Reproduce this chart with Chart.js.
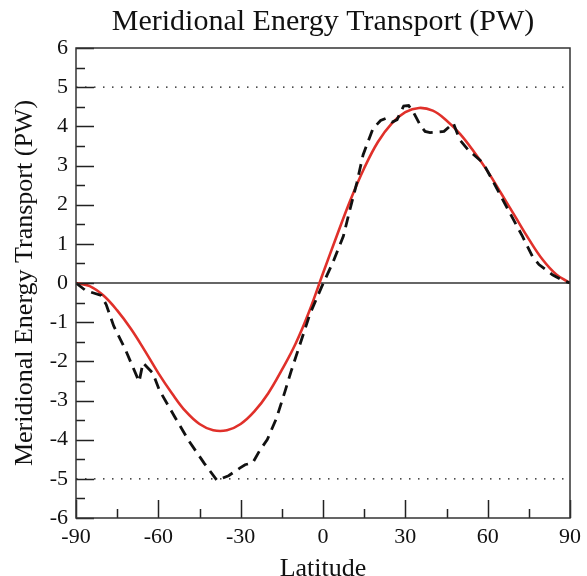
<!DOCTYPE html>
<html><head><meta charset="utf-8">
<script src="https://cdn.jsdelivr.net/npm/chart.js@4/dist/chart.umd.min.js"></script>
<style>html,body{margin:0;padding:0;background:#fff;}</style>
</head><body>
<canvas id="c" width="587" height="576" style="width:587px;height:576px;display:block"></canvas>
<script>
// Model (red, smooth) transport
const modelLat = [-90,-85,-80,-75,-70,-65,-60,-55,-50,-45,-40,-35,-30,-25,-20,-15,-10,-5,0,5,10,15,20,25,30,35,40,45,50,55,60,65,70,75,80,85,90];
const modelPW  = [0,-0.08,-0.32,-0.7,-1.17,-1.72,-2.3,-2.82,-3.28,-3.6,-3.76,-3.76,-3.6,-3.28,-2.82,-2.22,-1.55,-0.72,0.25,1.2,2.12,2.93,3.6,4.07,4.36,4.47,4.4,4.15,3.8,3.35,2.85,2.28,1.7,1.12,0.6,0.22,0];
// Observed (black, dashed) transport
const obsLat = [-90,-86.5,-80.8,-79,-76.3,-72,-67,-65.6,-62,-59.6,-54,-49,-43.2,-38.6,-34.4,-30.2,-28.4,-25.6,-23,-20.3,-17,-13.9,-11.6,-4.7,-0.5,3.7,7.4,9.8,12.3,14.6,18.2,21,23.1,25.2,27,29.4,31.2,32.8,35.6,37.2,39,44.1,47.5,49.8,52.9,58.3,63.3,67.9,72.7,76.3,78.7,83.6,87.2,90];
const obsPW  = [0,-0.19,-0.32,-0.55,-1.09,-1.7,-2.52,-2.04,-2.3,-2.74,-3.42,-4.02,-4.61,-5.04,-4.92,-4.72,-4.64,-4.59,-4.27,-4.0,-3.46,-2.78,-2.25,-0.78,-0.1,0.54,1.19,1.87,2.55,3.27,3.94,4.15,4.21,4.11,4.17,4.52,4.53,4.38,4.01,3.87,3.84,3.87,4.08,3.66,3.4,3.07,2.42,1.81,1.19,0.68,0.47,0.21,0.07,0];
// Reference lines
const refLat = [-90, 90];
const refLevels = [5, 0, -5];
// Axis ticks
const xTickValues = [-90,-60,-30,0,30,60,90];
const yTickValues = [-6,-5,-4,-3,-2,-1,0,1,2,3,4,5,6];

const pts = (xs, ys) => xs.map((x, i) => ({x, y: ys[i]}));
const SERIF = '"Liberation Serif", "Times New Roman", serif';

const frame = {
  id: 'frame',
  afterDatasetsDraw(chart) {
    const {ctx, chartArea: a, scales: {x, y}} = chart;
    ctx.save();
    ctx.strokeStyle = '#222';
    ctx.lineWidth = 1.5;
    ctx.beginPath();
    for (let v = -6; v <= 6.001; v += 0.5) {
      const py = Math.round(y.getPixelForValue(v)) + 0.5;
      const len = Number.isInteger(v) ? 18 : 9;
      ctx.moveTo(a.left, py); ctx.lineTo(a.left + len, py);
    }
    for (let v = -90; v <= 90; v += 15) {
      const px = Math.round(x.getPixelForValue(v)) + 0.5;
      const len = (v % 30 === 0) ? 18 : 9;
      ctx.moveTo(px, a.bottom); ctx.lineTo(px, a.bottom - len);
    }
    ctx.stroke();
    ctx.lineWidth = 1.5;
    ctx.strokeStyle = '#333';
    ctx.strokeRect(a.left, a.top, a.right - a.left, a.bottom - a.top);
    ctx.restore();
  }
};

const refSets = refLevels.map(lv => ({
  label: 'ref' + lv,
  data: pts(refLat, refLat.map(() => lv)),
  borderColor: lv === 0 ? '#333' : '#111',
  borderWidth: lv === 0 ? 1.3 : 1.4,
  borderDash: lv === 0 ? [] : [1.5, 7.5],
  pointRadius: 0,
  showLine: true,
  order: 5
}));

new Chart(document.getElementById('c'), {
  type: 'scatter',
  data: {
    datasets: [
      {
        label: 'Observed',
        data: pts(obsLat, obsPW),
        showLine: true,
        borderColor: '#111',
        borderWidth: 2.8,
        borderDash: [11, 7],
        pointRadius: 0,
        tension: 0,
        order: 1
      },
      {
        label: 'Model',
        data: pts(modelLat, modelPW),
        showLine: true,
        borderColor: '#e0302a',
        borderWidth: 2.6,
        pointRadius: 0,
        tension: 0.4,
        order: 2
      },
      ...refSets
    ]
  },
  plugins: [frame],
  options: {
    responsive: false,
    animation: false,
    devicePixelRatio: 1,
    layout: { padding: { left: 0, right: 12, top: 0, bottom: 0 } },
    plugins: {
      legend: { display: false },
      tooltip: { enabled: false },
      title: {
        display: true,
        fullSize: false,
        text: 'Meridional Energy Transport (PW)',
        color: '#111',
        font: { family: SERIF, size: 30, weight: 'normal', lineHeight: 1.2 },
        padding: { top: 4, bottom: 8 }
      }
    },
    scales: {
      x: {
        type: 'linear',
        min: -90, max: 90,
        afterBuildTicks: s => { s.ticks = xTickValues.map(v => ({value: v})); },
        afterFit: s => { s.height = 58; },
        grid: { display: false, drawTicks: false },
        border: { display: false },
        ticks: { color: '#111', font: { family: SERIF, size: 22 }, padding: 6, maxRotation: 0, autoSkip: false },
        title: { display: true, text: 'Latitude', color: '#111', font: { family: SERIF, size: 26, lineHeight: 0.55 }, padding: { top: 0, bottom: 0 } }
      },
      y: {
        type: 'linear',
        min: -6, max: 6,
        afterBuildTicks: s => { s.ticks = yTickValues.map(v => ({value: v})); },
        afterFit: s => { s.width = 76; },
        grid: { display: false, drawTicks: false },
        border: { display: false },
        ticks: { color: '#111', font: { family: SERIF, size: 22 }, padding: 8, autoSkip: false },
        title: { display: true, text: 'Meridional Energy Transport (PW)', color: '#111', font: { family: SERIF, size: 26, lineHeight: 1.2 }, padding: { top: 10, bottom: 0 } }
      }
    }
  }
});
</script>
</body></html>
